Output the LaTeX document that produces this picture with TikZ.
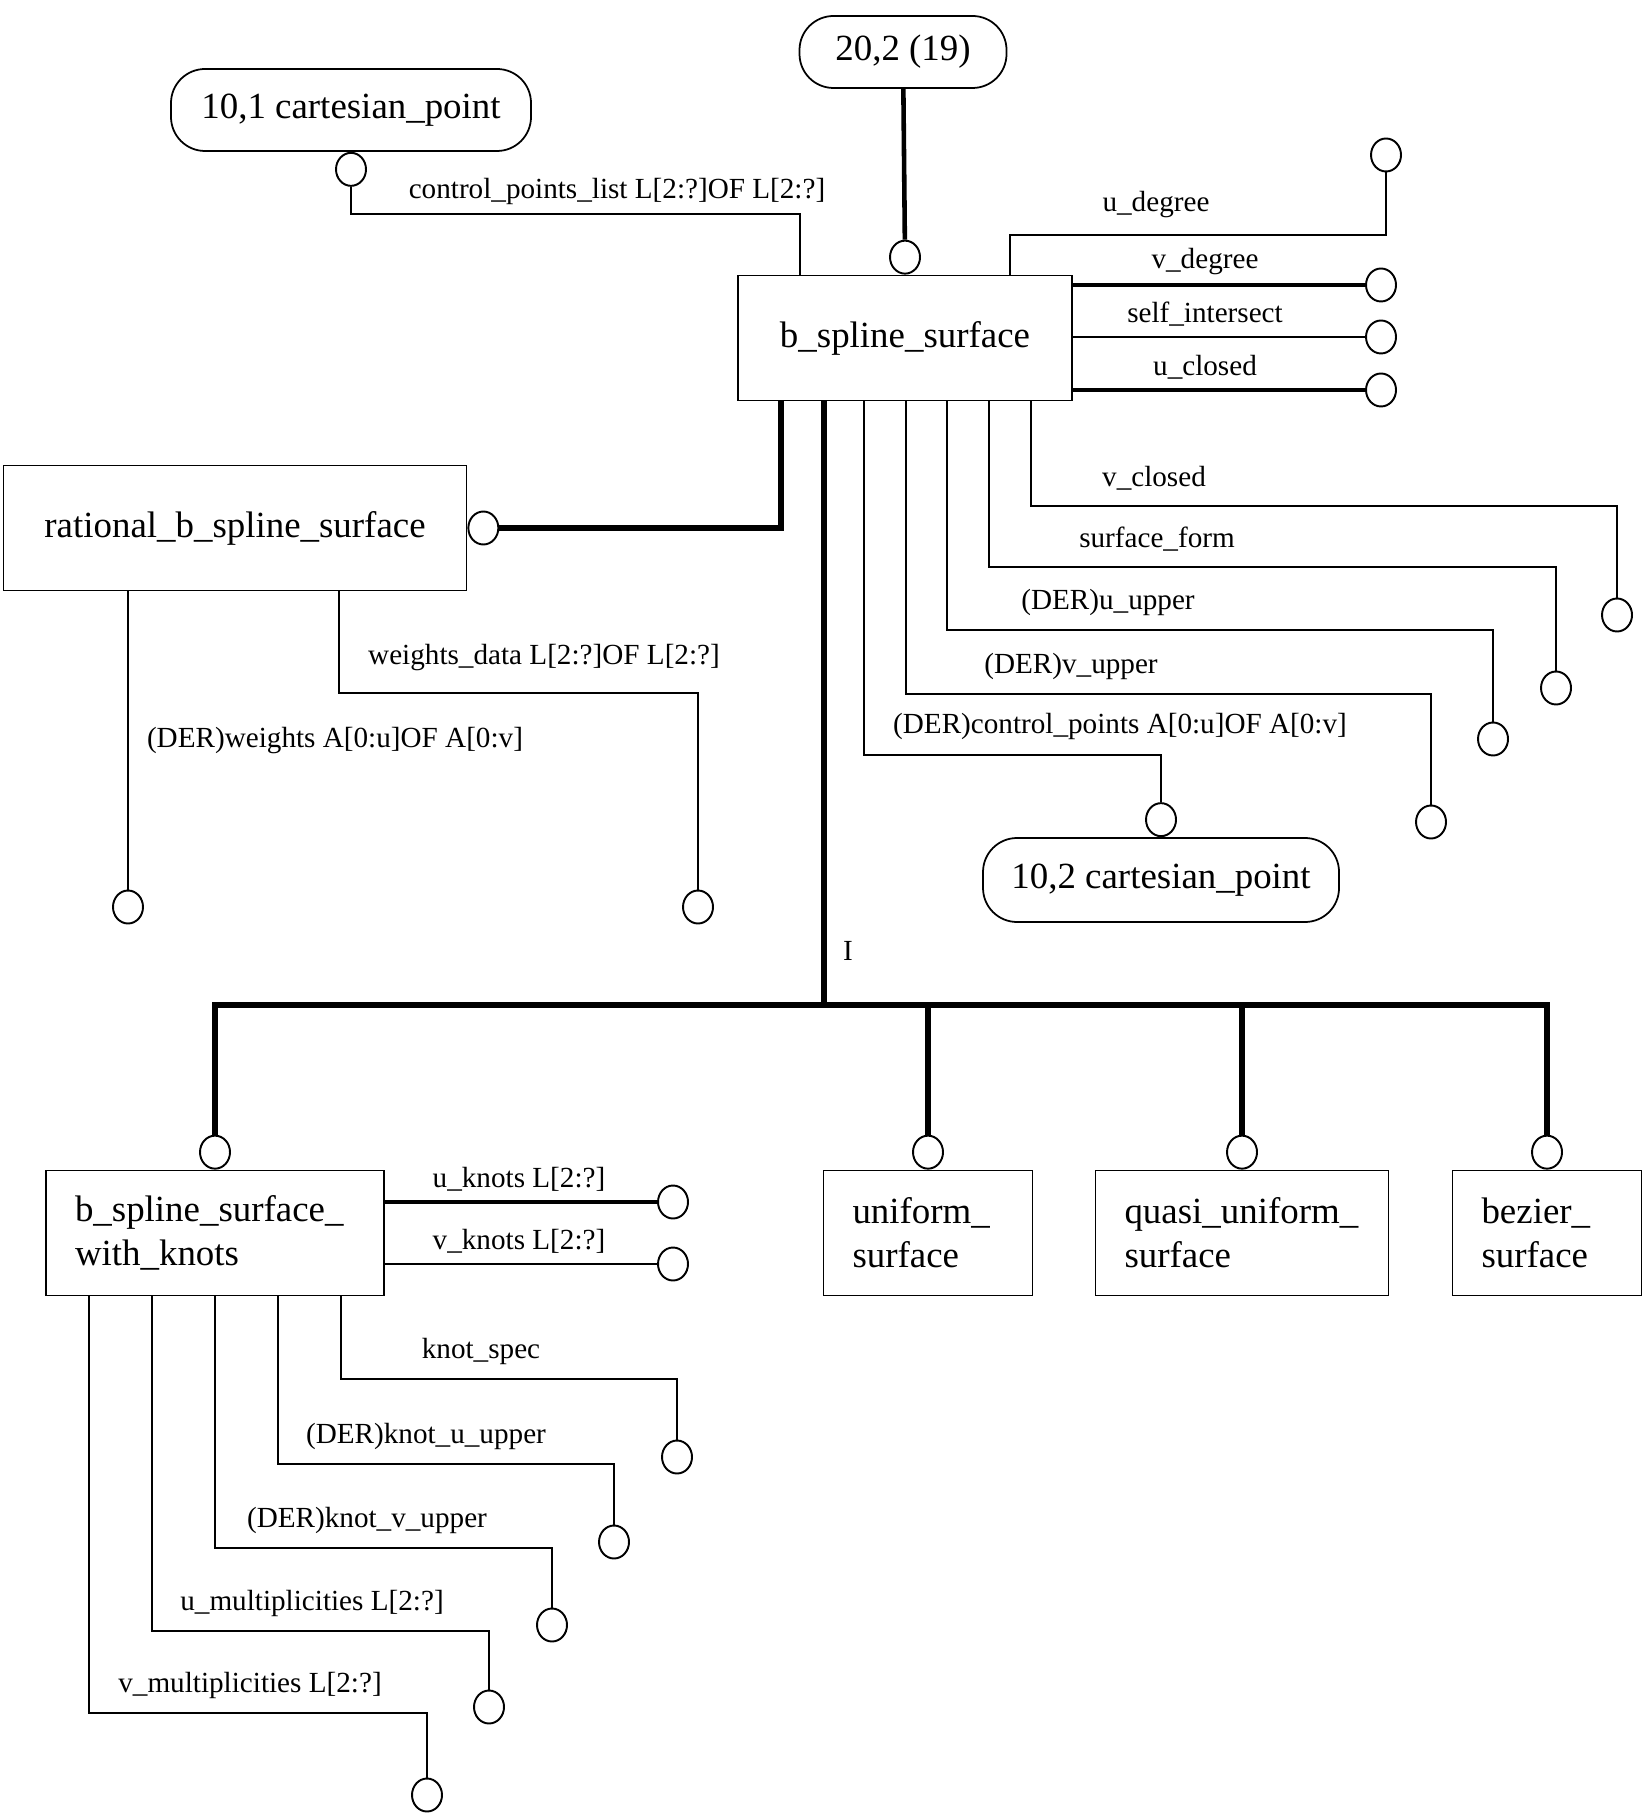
\documentclass[tikz,border=0pt]{standalone}
\usepackage{fontspec}
\setmainfont{Liberation Serif}
\usetikzlibrary{positioning,shapes.geometric,calc}
\tikzset{
  entity/.style={draw,line width=0.5pt,minimum width=#1,minimum height=1.25cm,
    inner sep=0pt,font=\fontsize{10.5}{12.5}\selectfont},
  subtype/.style={draw,line width=0.5pt,text width=#1,minimum height=1.25cm,
    inner xsep=0.29cm,align=left,font=\fontsize{10.5}{12.5}\selectfont},
  ref/.style={draw,line width=0.5pt,rounded corners=0.34cm,inner sep=0pt,
    font=\fontsize{10.5}{12.5}\selectfont},
  ring/.style={draw,ellipse,line width=0.55pt,minimum width=0.30cm,minimum height=0.33cm,
    inner sep=0pt,fill=white},
  attr/.style={line width=0.55pt},
  attr heavy/.style={line width=0.8pt},
  sub/.style={line width=1.6pt},
  lbl/.style={font=\fontsize{8.3}{10}\selectfont,inner sep=1pt},
}

\begin{document}
\begin{tikzpicture}
  \fill[white] (0,0) rectangle (16.46,-18.14);
  % entities
  \node[ref,minimum width=2.07cm,minimum height=0.72cm] (top) at (9.03,-0.52) {20,2 (19)};
  \node[ref,minimum width=3.60cm,minimum height=0.82cm] (cp1) at (3.51,-1.10) {10,1 cartesian\_point};
  \node[entity=3.34cm] (bss) at (9.05,-3.38) {b\_spline\_surface};
  \node[entity=4.63cm] (rbss) at (2.35,-5.28) {rational\_b\_spline\_surface};
  \node[ref,minimum width=3.56cm,minimum height=0.84cm] (cp2) at (11.61,-8.80) {10,2 cartesian\_point};
  \node[subtype=2.80cm] (bsswk) at (2.15,-12.33) {b\_spline\_surface\_\\with\_knots\\[4pt]};
  \node[subtype=1.51cm] (uni) at (9.28,-12.33) {uniform\_\\surface\\[4pt]};
  \node[subtype=2.35cm] (quasi) at (12.42,-12.33) {quasi\_uniform\_\\surface\\[4pt]};
  \node[subtype=1.31cm] (bez) at (15.47,-12.33) {bezier\_\\surface\\[4pt]};

  % supertype links
  \node[ring,above=0pt of bss] (r-bss) {};
  \draw[sub,line width=1.3pt] (top) -- (r-bss);
  \node[ring,right=0pt of rbss] (r-rbss) {};
  \coordinate (k-rbss) at (7.81,-5.26);
  \draw[sub] (r-rbss.east) -| (bss.south -| k-rbss);
  \coordinate (hub) at (8.24,-10.05);
  \draw[sub] (bss.south -| hub) -- (hub);
  \foreach \s in {bsswk,uni,quasi,bez}
    \node[ring,above=0pt of \s] (r-\s) {};
  \draw[sub] (r-bsswk.north) |- (hub) -| (r-bez.north);
  \draw[sub] (r-uni.north) -- (r-uni.north |- hub);
  \draw[sub] (r-quasi.north) -- (r-quasi.north |- hub);
  \node[lbl] at (8.48,-9.51) {I};

  % b_spline_surface attributes
  \node[ring,below=0pt of cp1] (r-cp1) {};
  \coordinate (k-cpl) at (8.00,-2.14);
  \draw[attr heavy] (r-cp1.south) |- (k-cpl) -- (bss.north -| k-cpl);
  \node[lbl] at (6.17,-1.91) {control\_points\_list L[2:?]OF L[2:?]};
  \node[ring] (r-udeg) at (13.86,-1.55) {};
  \coordinate (k-udeg) at (10.10,-2.35);
  \draw[attr] (bss.north -| k-udeg) -- (k-udeg) -| (r-udeg.south);
  \node[lbl] at (11.56,-2.05) {u\_degree};
  \foreach \n/\y/\w/\txt in {vdeg/-2.85/0.9pt/v\_degree,si/-3.37/0.6pt/self\_intersect,
    uc/-3.90/0.9pt/u\_closed}{
    \node[ring] (r-\n) at (13.81,\y) {};
    \draw[line width=\w] (bss.east |- r-\n) -- (r-\n.west);
    \node[lbl] at (12.05,\y+0.23) {\txt};
  }
  \foreach \n/\x/\y/\cx/\cy/\lx/\txt in {
    vc/10.31/-5.06/16.17/-6.15/11.54/v\_closed,
    sf/9.89/-5.67/15.56/-6.88/11.57/surface\_form,
    uu/9.47/-6.30/14.93/-7.39/11.08/(DER)u\_upper,
    vu/9.06/-6.94/14.31/-8.22/10.71/(DER)v\_upper}{
    \coordinate (k-\n) at (\x,\y);
    \node[ring] (r-\n) at (\cx,\cy) {};
    \draw[attr] (bss.south -| k-\n) -- (k-\n) -| (r-\n.north);
    \node[lbl] at (\lx,\y+0.28) {\txt};
  }
  \node[ring,above=0pt of cp2] (r-cp2) {};
  \coordinate (k-ctrl) at (8.64,-7.55);
  \draw[attr] (bss.south -| k-ctrl) -- (k-ctrl) -| (r-cp2.north);
  \node[lbl] at (11.20,-7.26) {(DER)control\_points A[0:u]OF A[0:v]};

  % rational_b_spline_surface attributes
  \node[ring] (r-wts) at (1.28,-9.07) {};
  \draw[attr] (rbss.south -| r-wts) -- (r-wts.north);
  \node[lbl] at (3.35,-7.41) {(DER)weights A[0:u]OF A[0:v]};
  \node[ring] (r-wd) at (6.98,-9.07) {};
  \coordinate (k-wd) at (3.39,-6.93);
  \draw[attr] (rbss.south -| k-wd) -- (k-wd) -| (r-wd.north);
  \node[lbl] at (5.44,-6.58) {weights\_data L[2:?]OF L[2:?]};

  % b_spline_surface_with_knots attributes
  \foreach \n/\y/\w/\txt in {uk/-12.02/0.9pt/u\_knots L[2:?],vk/-12.64/0.55pt/v\_knots L[2:?]}{
    \node[ring] (r-\n) at (6.73,\y) {};
    \draw[line width=\w] (bsswk.east |- r-\n) -- (r-\n.west);
    \node[lbl] at (5.19,\y+0.23) {\txt};
  }
  \foreach \n/\x/\y/\cx/\cy/\lx/\txt in {
    ks/3.41/-13.79/6.77/-14.57/4.81/knot\_spec,
    ku/2.78/-14.64/6.14/-15.42/4.26/(DER)knot\_u\_upper,
    kv/2.15/-15.48/5.52/-16.25/3.67/(DER)knot\_v\_upper,
    um/1.52/-16.31/4.89/-17.07/3.12/u\_multiplicities L[2:?],
    vm/0.89/-17.13/4.27/-17.95/2.50/v\_multiplicities L[2:?]}{
    \coordinate (k-\n) at (\x,\y);
    \node[ring] (r-\n) at (\cx,\cy) {};
    \draw[attr] (bsswk.south -| k-\n) -- (k-\n) -| (r-\n.north);
    \node[lbl] at (\lx,\y+0.28) {\txt};
  }
\end{tikzpicture}
\end{document}
